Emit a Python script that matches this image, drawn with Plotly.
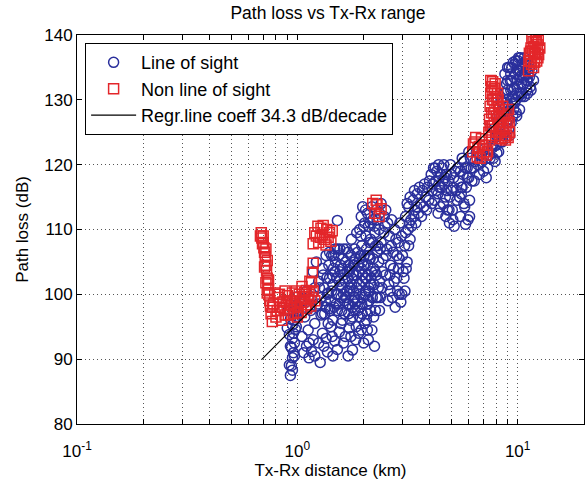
import numpy as np
import plotly.graph_objects as go

# Measured path loss, line-of-sight links: Tx-Rx distance (km) and loss (dB)
los_km = [
    0.93, 0.94, 0.95, 0.96, 0.94, 0.97, 0.95, 0.96, 0.98, 0.95, 0.97, 0.99, 0.96, 0.98, 1.00, 0.97,
    0.99, 0.93, 0.92, 0.95, 0.97, 0.99, 0.93, 1.01, 0.92, 0.90, 0.91,
    1.05, 1.10, 1.13, 1.12, 1.18, 1.20, 1.25, 1.30, 1.37, 1.35, 1.42, 1.48, 1.55, 1.60, 1.65, 1.78,
    1.72, 1.08, 1.15, 1.22, 1.05, 1.12, 1.28, 1.40, 1.50, 1.16, 1.45, 1.13,
    1.00, 1.05, 1.10, 1.15, 1.20, 1.25, 1.18, 1.22, 1.30, 1.35,
    1.28, 1.32, 1.35, 1.38, 1.40, 1.42, 1.45, 1.48, 1.50, 1.52, 1.55, 1.57, 1.58, 1.60, 1.62, 1.64,
    1.66, 1.68, 1.70, 1.72, 1.74, 1.76, 1.78, 1.80, 1.82, 1.84, 1.86, 1.88, 1.90, 1.92, 1.94, 1.96,
    1.98, 2.00, 2.02, 2.04, 2.06, 2.08, 2.10, 2.12, 2.14, 2.16, 2.18, 2.20, 2.22, 2.25, 2.28, 2.30,
    2.33, 2.36, 1.46, 1.52, 1.48, 1.40, 1.52, 1.62, 1.70, 1.58, 1.75, 1.90, 2.00, 1.85, 2.10, 2.24,
    1.66, 1.80, 1.95, 1.72, 1.88, 2.05, 1.60, 1.55, 1.78, 1.92, 2.15, 1.33, 1.45, 1.38,
    1.30, 1.34, 1.36, 1.39, 1.43, 1.44, 1.47, 1.49, 1.51, 1.53, 1.54, 1.56, 1.59, 1.61, 1.63, 1.65,
    1.67, 1.69, 1.71, 1.73, 1.75, 1.77, 1.79, 1.81, 1.83, 1.85, 1.87, 1.89, 1.91, 1.93, 1.97, 1.99,
    2.01, 2.03, 2.07, 2.09, 2.11, 2.13, 2.17, 2.19, 2.21, 2.23, 2.26, 2.27, 2.29, 2.31, 2.34, 2.36,
    2.38, 2.38, 1.26, 1.24, 1.31, 1.37, 1.41, 1.46, 1.57, 1.74, 1.95, 2.06,
    1.62, 1.68, 1.74, 1.80, 1.86, 1.92, 1.98, 2.04, 2.10, 2.16, 2.22, 1.71, 1.83, 1.97, 2.11,
    1.07, 1.20, 1.27, 1.32, 1.44, 1.52, 1.62, 1.70, 1.84, 2.08,
    1.43, 1.56, 1.76, 1.82, 1.86, 1.94, 2.00, 2.04, 2.14, 2.18, 2.24, 2.30, 2.36,
    1.92, 1.95, 1.98, 2.02, 2.05, 2.08, 2.10, 2.15, 2.20, 2.25, 2.28, 2.32, 2.35, 1.96, 2.12,
    2.40, 2.45, 2.50, 2.52, 2.55, 2.60, 2.62, 2.65, 2.70, 2.72, 2.75, 2.80, 2.85, 2.88, 2.92, 2.95,
    3.00, 3.05, 3.10, 3.15, 3.20, 3.22, 2.42, 2.58, 2.68, 2.78, 2.98, 2.48, 3.08, 2.83,
    2.44, 2.47, 2.53, 2.57, 2.63, 2.67, 2.73, 2.77, 2.82, 2.87, 2.90, 2.97, 3.02, 3.07, 3.12, 3.18,
    3.25, 2.64, 2.90, 2.52, 2.40,
    3.10, 3.20, 3.28, 3.35, 3.42, 3.50, 3.55, 3.62, 3.70, 3.75, 3.82, 3.90, 3.95, 3.30, 3.45,
    3.15, 3.25, 3.38, 3.48, 3.58, 3.66, 3.78, 3.86, 3.98, 3.40,
    4.05, 4.10, 4.15, 4.20, 4.25, 4.30, 4.35, 4.40, 4.45, 4.50, 4.55, 4.60, 4.65, 4.70, 4.75, 4.80,
    4.08, 4.12, 4.22, 4.28, 4.38, 4.42, 4.48, 4.58, 4.62, 4.68, 4.72, 4.78, 4.35,
    4.85, 4.90, 4.92, 4.98, 5.05, 5.10, 5.15, 5.20, 5.30, 5.40, 5.50, 5.55, 5.65, 5.75, 5.85, 5.95,
    6.05, 6.00,
    4.88, 4.95, 5.00, 5.08, 5.12, 5.25, 5.35, 5.45, 5.60, 5.70, 5.80, 5.90, 6.05,
    5.50, 5.70, 5.90, 6.10, 6.30, 6.50, 6.70, 6.90, 7.10, 7.30, 6.20, 7.45, 6.80, 7.20,
    5.60, 5.80, 6.00, 6.15, 6.40, 6.60, 6.75, 7.00, 7.25, 6.35, 5.55,
    7.50, 7.70, 7.90, 8.00, 8.20, 8.30, 8.50, 8.60, 8.70, 8.80, 8.90, 9.00, 9.10, 9.20, 9.30, 9.40,
    9.50, 9.60, 9.70, 9.80, 9.90, 10.0, 10.2, 10.3, 10.4, 10.6, 10.7, 10.9, 11.0, 11.2, 11.4, 11.6,
    11.8, 8.40, 8.75, 9.05, 9.35, 9.65, 10.1, 10.5, 8.10, 7.80, 9.15,
    7.60, 7.75, 7.95, 8.05, 8.15, 8.35, 8.45, 8.55, 8.65, 8.85, 8.95, 9.00, 9.25, 9.45, 9.55, 9.75,
    9.85, 9.95, 10.05, 10.25, 10.45, 10.65, 10.8, 11.1, 11.3, 11.5,
    8.0, 8.2, 8.4, 8.6, 8.8, 9.0, 9.2, 9.4, 9.6, 9.8, 10.0, 10.2, 10.4, 10.6, 10.8, 11.0,
    11.2, 8.9, 9.3, 9.7, 10.1, 10.5, 10.9, 11.3, 9.1, 9.5, 9.9, 10.3, 10.7, 11.1,
]
los_db = [
    87.5, 89.0, 90.2, 91.0, 91.8, 92.5, 93.2, 94.0, 94.6, 95.3, 96.0, 96.6, 97.2, 97.8, 98.4, 99.0,
    99.6, 92.0, 93.8, 88.3, 90.5, 95.0, 96.2, 97.0, 89.1, 94.8, 97.5,
    93.5, 92.0, 90.2, 94.5, 93.0, 95.5, 92.5, 94.0, 91.1, 93.2, 95.0, 92.8, 94.2, 96.0, 93.5, 91.4,
    94.8, 96.5, 97.5, 98.2, 98.8, 99.5, 96.8, 97.8, 98.5, 91.2, 90.5, 92.5,
    97.5, 99.0, 100.5, 98.0, 101.0, 102.0, 103.5, 105.0, 104.0, 106.0,
    99.5, 101.0, 98.0, 100.2, 102.5, 99.0, 101.5, 103.5, 100.0, 97.5, 102.0, 104.5, 99.5, 101.0, 103.0, 97.0,
    105.0, 100.5, 102.5, 98.5, 104.0, 101.5, 96.5, 103.0, 99.5, 105.5, 101.0, 97.5, 103.5, 100.0, 106.0, 98.5,
    102.0, 104.5, 95.5, 100.5, 107.0, 97.0, 103.0, 99.0, 105.5, 101.5, 94.5, 108.0, 96.5, 103.5, 99.5, 106.5,
    101.0, 97.5, 106.0, 107.0, 107.0, 106.5, 111.4, 107.0, 106.5, 95.5, 93.5, 94.0, 92.5, 95.0, 93.0, 92.0,
    99.5, 100.5, 104.0, 103.5, 106.5, 102.5, 104.0, 98.5, 98.0, 98.0, 97.5, 97.0, 96.0, 95.5,
    97.0, 99.0, 102.5, 104.5, 100.5, 103.0, 98.0, 105.0, 102.5, 100.0, 106.0, 103.5, 97.5, 105.5, 99.0, 102.0,
    107.0, 98.5, 104.5, 100.5, 106.0, 102.5, 99.0, 105.0, 97.5, 103.0, 99.0, 104.5, 101.5, 96.5, 105.0, 99.5,
    106.0, 102.5, 98.5, 104.5, 101.0, 108.0, 103.5, 99.5, 105.5, 101.5, 97.5, 107.5, 103.0, 99.5, 105.0, 102.0,
    99.5, 107.0, 101.0, 98.5, 103.0, 100.0, 97.5, 104.0, 101.5, 96.0, 94.5, 96.0,
    100.0, 103.5, 101.0, 104.5, 102.0, 105.5, 103.0, 100.0, 106.0, 102.5, 104.0, 97.0, 98.5, 97.0, 100.5,
    91.0, 90.5, 89.5, 92.0, 93.5, 91.5, 92.5, 90.5, 93.0, 94.5,
    106.0, 107.0, 108.5, 107.0, 109.5, 109.0, 110.5, 113.0, 111.0, 113.5, 110.5, 111.5, 112.5,
    110.0, 112.0, 113.5, 111.0, 109.0, 112.5, 110.5, 108.5, 111.5, 109.5, 113.0, 107.5, 110.0, 107.5, 106.0,
    108.0, 105.5, 110.5, 103.0, 107.0, 101.5, 109.0, 104.5, 99.5, 106.5, 102.0, 108.5, 100.5, 104.0, 111.0, 98.8,
    106.0, 102.5, 109.5, 105.0, 107.5, 111.0, 101.0, 99.0, 111.5, 98.0, 100.0, 112.0, 100.5, 106.0,
    103.5, 109.5, 106.0, 111.0, 103.0, 107.5, 104.0, 110.0, 102.5, 108.0, 105.5, 109.0, 103.5, 107.5, 104.0, 110.0,
    108.5, 100.5, 100.0, 113.0, 114.0,
    112.0, 113.5, 111.5, 114.5, 113.0, 115.5, 112.5, 114.0, 116.0, 113.5, 115.0, 116.5, 114.5, 110.5, 111.0,
    114.0, 115.0, 112.0, 113.5, 116.5, 112.0, 117.0, 113.0, 117.5, 116.0,
    118.5, 116.0, 119.5, 114.5, 117.5, 119.0, 115.5, 118.0, 113.5, 116.5, 119.5, 114.0, 117.0, 115.0, 118.5, 113.0,
    114.0, 117.0, 119.5, 116.0, 120.0, 116.5, 118.5, 117.5, 120.0, 118.0, 112.0, 116.0, 112.5,
    117.5, 111.0, 115.0, 118.5, 113.0, 116.5, 110.5, 119.0, 114.5, 117.5, 112.0, 115.5, 118.5, 113.5, 116.5, 111.5,
    114.5, 118.0,
    113.0, 120.0, 116.0, 111.5, 118.0, 116.0, 119.5, 115.0, 116.5, 114.0, 110.8, 119.5, 112.0,
    119.0, 120.5, 118.0, 121.0, 119.5, 122.0, 118.5, 120.5, 122.5, 119.5, 117.5, 121.5, 121.5, 118.0,
    121.0, 119.5, 122.0, 119.5, 120.5, 120.0, 121.5, 119.0, 121.0, 117.5, 116.5,
    121.0, 123.0, 120.5, 124.5, 122.0, 126.0, 123.5, 128.0, 125.0, 131.0, 126.5, 133.0, 129.0, 124.5, 131.5, 135.0,
    127.5, 133.5, 129.5, 136.0, 131.0, 134.5, 128.5, 136.5, 132.5, 135.0, 130.5, 136.0, 133.0, 135.5, 132.0, 134.5,
    133.0, 130.0, 134.0, 127.0, 126.5, 131.8, 130.5, 133.8, 127.5, 125.5, 135.0,
    122.5, 121.0, 123.0, 121.8, 124.5, 123.5, 126.5, 129.5, 131.0, 128.0, 130.0, 135.0, 133.0, 129.5, 135.8, 134.0,
    128.0, 133.0, 136.0, 133.5, 135.5, 132.5, 134.0, 131.0, 133.5, 131.5,
    123.0, 125.5, 127.5, 124.5, 129.0, 131.5, 127.0, 133.0, 128.5, 130.0, 132.0, 134.5, 130.5, 133.5, 135.5, 131.5,
    134.0, 132.5, 134.0, 135.5, 136.5, 131.0, 134.5, 134.8, 125.5, 130.5, 127.5, 131.0, 136.5, 133.0,
]

# Non-line-of-sight links
nlos_km = [
    0.686, 0.69, 0.70, 0.705, 0.71, 0.715, 0.72, 0.725, 0.73, 0.735, 0.74, 0.745, 0.75, 0.755, 0.73, 0.74,
    0.70, 0.72, 0.68, 0.695, 0.71, 0.72, 0.73,
    0.76, 0.78, 0.80, 0.82, 0.84, 0.86, 0.88, 0.90, 0.92, 0.94, 0.96, 0.98, 1.00, 1.02, 1.04, 1.06,
    1.08, 1.10, 1.12, 1.15, 1.18, 1.20, 0.79, 0.85, 0.88, 0.95, 1.00, 1.05, 0.77, 0.83,
    0.77, 0.81, 0.83, 0.87, 0.89, 0.91, 0.93, 0.97, 0.99, 1.01, 1.03, 1.07, 1.09, 1.13, 1.16,
    1.10, 1.16, 1.17, 1.18, 1.14,
    1.18, 1.22, 1.25, 1.28, 1.30, 1.33, 1.36, 1.40, 1.42, 1.24, 1.35,
    1.20, 1.27, 1.31, 1.38, 1.44,
    2.20, 2.25, 2.30, 2.35, 2.40, 2.28,
    6.25, 6.40, 6.55, 6.70, 6.85, 7.00, 7.15, 7.30, 6.45,
    6.30, 6.60, 6.95, 7.20, 6.75,
    7.40, 7.45, 7.50, 7.55, 7.60, 7.70, 7.75, 7.80, 7.85, 7.95, 8.00, 8.05, 8.10, 8.20, 8.25, 8.15,
    8.40, 8.45, 8.55, 8.65, 8.75, 8.90, 9.00, 9.10, 9.20, 7.65, 7.90, 7.50, 8.30, 8.80,
    7.45, 7.58, 7.62, 7.68, 7.72, 7.82, 7.88, 7.98, 8.02, 8.12, 8.18, 8.28, 8.35, 8.50, 8.60, 8.70,
    8.85, 8.95, 9.05, 9.15, 7.55, 7.70,
    11.2, 11.4, 11.5, 11.6, 11.8, 11.9, 12.0, 12.1, 12.2, 12.3, 12.4, 12.5, 11.7, 12.6, 11.3,
    11.25, 11.45, 11.55, 11.65, 11.75, 11.85, 11.95, 12.05, 12.15, 12.25, 12.35, 12.45,
]
nlos_db = [
    109.5, 108.7, 108.0, 107.2, 106.5, 105.8, 104.5, 103.6, 102.5, 101.6, 100.8, 99.9, 99.0, 98.2, 105.2, 102.2,
    109.0, 107.0, 109.0, 107.8, 104.2, 101.8, 100.2,
    97.0, 98.5, 96.5, 99.5, 97.5, 98.8, 96.8, 99.8, 97.8, 98.5, 97.0, 99.5, 98.0, 100.0, 97.2, 98.8,
    100.3, 97.8, 99.2, 98.2, 100.5, 99.0, 100.2, 96.0, 100.5, 100.2, 96.5, 101.2, 95.8, 98.0,
    98.0, 97.5, 100.0, 97.8, 98.8, 96.8, 99.0, 98.2, 100.5, 97.2, 98.8, 99.6, 98.4, 100.0, 99.5,
    100.6, 101.8, 103.4, 104.8, 102.0,
    107.8, 109.0, 108.0, 110.2, 109.2, 108.5, 110.0, 109.5, 108.2, 110.5, 107.6,
    109.5, 108.8, 110.6, 108.8, 109.8,
    114.0, 112.5, 113.8, 112.0, 113.2, 114.5,
    122.0, 123.5, 121.2, 122.8, 124.0, 121.8, 123.0, 122.0, 124.2,
    123.2, 122.5, 123.0, 121.5, 121.0,
    125.0, 127.0, 129.0, 131.0, 132.0, 126.0, 128.0, 130.0, 131.8, 124.5, 127.5, 129.5, 131.0, 126.0, 128.5, 130.0,
    124.0, 127.0, 129.0, 125.5, 127.5, 124.5, 126.5, 128.5, 125.0, 124.2, 132.5, 126.0, 125.0, 123.8,
    123.8, 126.0, 128.0, 130.0, 131.5, 126.5, 128.5, 130.5, 125.0, 127.0, 128.8, 125.0, 126.5, 125.5, 127.0, 124.2,
    126.0, 127.8, 124.2, 126.5, 133.0, 132.8,
    134.5, 136.0, 138.0, 139.5, 135.0, 137.0, 138.8, 140.5, 136.0, 137.8, 139.2, 141.0, 141.0, 138.0, 137.2,
    136.0, 137.5, 135.5, 137.5, 139.0, 138.2, 135.8, 137.2, 139.5, 138.5, 136.5, 137.0,
]

# Least-squares fit over the measured range
regr_slope = 34.3       # dB/decade
regr_intercept = 95.5   # dB at 1 km
regr_km = [0.69, 12.2]

x_range_km = [0.1, 20.0]
y_range_db = [80, 140]
x_tick_vals = [0.1, 1, 10]
x_tick_text = ["10<sup>-1</sup>", "10<sup>0</sup>", "10<sup>1</sup>"]
x_minor_vals = [m * 10.0 ** e for e in (-1, 0, 1) for m in range(2, 10) if m * 10.0 ** e <= 20]

regr_db = [regr_intercept + regr_slope * np.log10(x) for x in regr_km]

FONT = "Arial, Liberation Sans, Helvetica, sans-serif"
BLUE = "#2a2f9c"
RED = "#e3262a"
GRID = dict(showgrid=True, gridcolor="#555555", griddash="1px,3px", gridwidth=1)

fig = go.Figure()
fig.add_trace(go.Scatter(
    x=los_km, y=los_db, mode="markers", name="Line of sight",
    marker=dict(symbol="circle-open", size=10, color=BLUE, line=dict(width=1.5, color=BLUE)),
))
fig.add_trace(go.Scatter(
    x=nlos_km, y=nlos_db, mode="markers", name="Non line of sight",
    marker=dict(symbol="square-open", size=10, color=RED, line=dict(width=1.5, color=RED)),
))
fig.add_trace(go.Scatter(
    x=regr_km, y=regr_db, mode="lines", name="Regr.line coeff 34.3 dB/decade",
    line=dict(color="black", width=1.2),
))

fig.update_layout(
    width=585, height=481,
    margin=dict(l=77, r=1, t=35, b=57),
    paper_bgcolor="white", plot_bgcolor="white",
    font=dict(family=FONT, size=17, color="black"),
    title=dict(text="Path loss vs Tx-Rx range", x=328 / 585, xanchor="center",
               y=1 - 13 / 481, yanchor="middle", font=dict(size=17.5)),
    showlegend=True,
    legend=dict(
        x=0.016, y=0.979, xanchor="left", yanchor="top",
        bgcolor="white", bordercolor="black", borderwidth=1,
        font=dict(size=18), itemwidth=45, tracegroupgap=0,
    ),
)
fig.update_xaxes(
    type="log", range=[np.log10(x_range_km[0]), np.log10(x_range_km[1])],
    tickmode="array", tickvals=x_tick_vals, ticktext=x_tick_text,
    ticks="inside", ticklen=5, tickcolor="black", ticklabelstandoff=12,
    minor=dict(tickmode="array", tickvals=x_minor_vals, ticks="inside", ticklen=5,
               tickcolor="black", **GRID),
    showline=True, linecolor="black", linewidth=1, mirror="ticks",
    zeroline=False, tickfont=dict(size=17),
    title=dict(text="Tx-Rx distance (km)", font=dict(size=17), standoff=0),
    **GRID,
)
fig.update_yaxes(
    range=y_range_db, dtick=10, tick0=80,
    ticks="inside", ticklen=5, tickcolor="black",
    showline=True, linecolor="black", linewidth=1, mirror="ticks",
    zeroline=False, tickfont=dict(size=17),
    title=dict(text="Path loss (dB)", font=dict(size=17), standoff=11),
    **GRID,
)

fig.write_html("out.html")
